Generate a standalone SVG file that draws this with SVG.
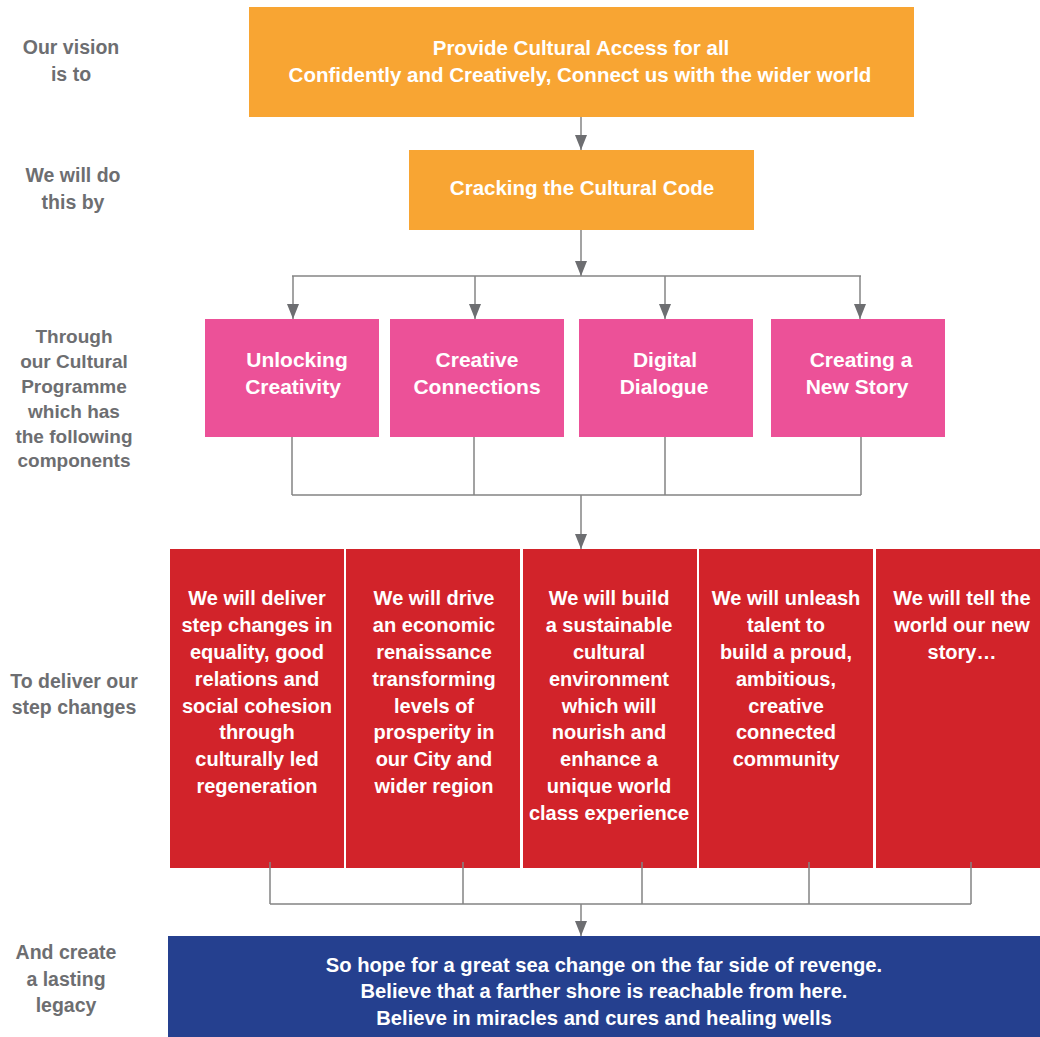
<svg xmlns="http://www.w3.org/2000/svg" width="1040" height="1037" viewBox="0 0 1040 1037">
<style>
text{font-family:"Liberation Sans",Arial,sans-serif;font-weight:bold;text-anchor:middle}
.lab{fill:#6d6e71;font-size:19.5px}
.wt{fill:#ffffff}
.or{fill:#f8a533}
.pk{fill:#ec5198}
.rd{fill:#d2232a}
.bl{fill:#25408f}
.t20{font-size:20px}
.t21{font-size:21px}
.conn path{fill:none;stroke:#848484;stroke-width:1.5}
</style>
<defs>
<marker id="ah" markerUnits="userSpaceOnUse" markerWidth="15" markerHeight="12" viewBox="0 0 15 12" refX="15" refY="6" orient="auto">
<path d="M0,0 L15,6 L0,12 z" fill="#6d6e71"/>
</marker>
</defs>
<rect width="1040" height="1037" fill="#ffffff"/>

<g id="labels">
<text class="lab"><tspan x="71" y="54">Our vision</tspan><tspan x="71" y="81">is to</tspan></text>
<text class="lab"><tspan x="73" y="182">We will do</tspan><tspan x="73" y="209">this by</tspan></text>
<text class="lab" style="font-size:19px"><tspan x="74" y="343">Through</tspan><tspan x="74" y="368">our Cultural</tspan><tspan x="74" y="393">Programme</tspan><tspan x="74" y="418">which has</tspan><tspan x="74" y="443">the following</tspan><tspan x="74" y="467">components</tspan></text>
<text class="lab"><tspan x="74" y="688">To deliver our</tspan><tspan x="74" y="714">step changes</tspan></text>
<text class="lab"><tspan x="66" y="959">And create</tspan><tspan x="66" y="986">a lasting</tspan><tspan x="66" y="1012">legacy</tspan></text>
</g>

<g id="vision">
<rect class="or" x="249" y="7" width="665" height="110"/>
<text class="wt" style="font-size:20.5px"><tspan x="581" y="55">Provide Cultural Access for all</tspan><tspan x="580" y="82">Confidently and Creatively, Connect us with the wider world</tspan></text>
</g>

<g id="code">
<rect class="or" x="409" y="150" width="345" height="80"/>
<text class="wt" style="font-size:20.5px" x="582" y="195">Cracking the Cultural Code</text>
</g>

<g id="unlocking">
<rect class="pk" x="205" y="319" width="174" height="118"/>
<text class="wt t21"><tspan x="297" y="367">Unlocking</tspan><tspan x="293" y="394">Creativity</tspan></text>
</g>
<g id="connections">
<rect class="pk" x="390" y="319" width="174" height="118"/>
<text class="wt t21"><tspan x="477" y="367">Creative</tspan><tspan x="477" y="394">Connections</tspan></text>
</g>
<g id="dialogue">
<rect class="pk" x="579" y="319" width="174" height="118"/>
<text class="wt t21"><tspan x="665" y="367">Digital</tspan><tspan x="664" y="394">Dialogue</tspan></text>
</g>
<g id="newstory">
<rect class="pk" x="771" y="319" width="174" height="118"/>
<text class="wt t21"><tspan x="861" y="367">Creating a</tspan><tspan x="857" y="394">New Story</tspan></text>
</g>

<g id="equality">
<rect class="rd" x="170" y="549" width="174" height="319"/>
<text class="wt t20"><tspan x="257" y="605">We will deliver</tspan><tspan x="257" y="632">step changes in</tspan><tspan x="257" y="659">equality, good</tspan><tspan x="257" y="686">relations and</tspan><tspan x="257" y="713">social cohesion</tspan><tspan x="257" y="739">through</tspan><tspan x="257" y="766">culturally led</tspan><tspan x="257" y="793">regeneration</tspan></text>
</g>
<g id="economic">
<rect class="rd" x="346" y="549" width="174" height="319"/>
<text class="wt t20"><tspan x="434" y="605">We will drive</tspan><tspan x="434" y="632">an economic</tspan><tspan x="434" y="659">renaissance</tspan><tspan x="434" y="686">transforming</tspan><tspan x="434" y="713">levels of</tspan><tspan x="434" y="739">prosperity in</tspan><tspan x="434" y="766">our City and</tspan><tspan x="434" y="793">wider region</tspan></text>
</g>
<g id="environment">
<rect class="rd" x="523" y="549" width="174" height="319"/>
<text class="wt t20"><tspan x="609" y="605">We will build</tspan><tspan x="609" y="632">a sustainable</tspan><tspan x="609" y="659">cultural</tspan><tspan x="609" y="686">environment</tspan><tspan x="609" y="713">which will</tspan><tspan x="609" y="739">nourish and</tspan><tspan x="609" y="766">enhance a</tspan><tspan x="609" y="793">unique world</tspan><tspan x="609" y="820">class experience</tspan></text>
</g>
<g id="talent">
<rect class="rd" x="699" y="549" width="174" height="319"/>
<text class="wt t20"><tspan x="786" y="605">We will unleash</tspan><tspan x="786" y="632">talent to</tspan><tspan x="786" y="659">build a proud,</tspan><tspan x="786" y="686">ambitious,</tspan><tspan x="786" y="713">creative</tspan><tspan x="786" y="739">connected</tspan><tspan x="786" y="766">community</tspan></text>
</g>
<g id="story">
<rect class="rd" x="876" y="549" width="164" height="319"/>
<text class="wt t20"><tspan x="962" y="605">We will tell the</tspan><tspan x="962" y="632">world our new</tspan><tspan x="962" y="659">story…</tspan></text>
</g>

<g id="legacy">
<rect class="bl" x="168" y="936" width="872" height="101"/>
<text class="wt" style="font-size:20.2px"><tspan x="604" y="972">So hope for a great sea change on the far side of revenge.</tspan><tspan x="604" y="998">Believe that a farther shore is reachable from here.</tspan><tspan x="604" y="1025">Believe in miracles and cures and healing wells</tspan></text>
</g>

<g id="connectors" class="conn">
<path d="M581,117 V150" marker-end="url(#ah)"/>
<path d="M581,230 V276" marker-end="url(#ah)"/>
<path d="M292,276 H861"/>
<path d="M293,276 V319" marker-end="url(#ah)"/>
<path d="M475,276 V319" marker-end="url(#ah)"/>
<path d="M665,276 V319" marker-end="url(#ah)"/>
<path d="M860,276 V319" marker-end="url(#ah)"/>
<path d="M292,437 V495 M474,437 V495 M665,437 V495 M861,437 V495 M292,495 H861"/>
<path d="M581,495 V549" marker-end="url(#ah)"/>
<path d="M270,862 V904 M463,862 V904 M642,862 V904 M809,862 V904 M971,862 V904 M270,904 H971"/>
<path d="M581,904 V936" marker-end="url(#ah)"/>
</g>
</svg>
